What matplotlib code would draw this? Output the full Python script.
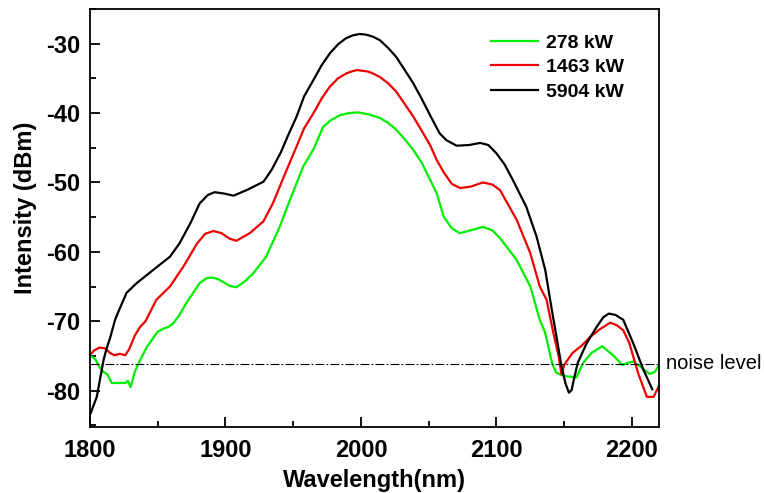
import matplotlib
matplotlib.use("Agg")
import matplotlib.pyplot as plt
from matplotlib.ticker import MultipleLocator

plt.rcParams['font.family'] = ['Liberation Sans', 'DejaVu Sans']
plt.rcParams['axes.unicode_minus'] = False

# 5904 kW (black)
wl_black = [1800, 1805, 1810, 1812, 1815, 1818.5, 1821, 1827, 1834.5, 1846.7, 1859, 1866, 1874, 1881,
            1887, 1892, 1899, 1906, 1915.6, 1928, 1934, 1941, 1946, 1952.5, 1958, 1965, 1971, 1977,
            1983, 1989, 1994, 1999, 2004, 2009, 2014, 2020, 2026, 2032, 2038.6, 2045, 2051, 2058,
            2063, 2070.6, 2080, 2088, 2094, 2100, 2106, 2112, 2122, 2129.6, 2136, 2141, 2145, 2148,
            2151, 2153.5, 2155.5, 2157, 2160, 2166.5, 2174, 2179, 2183, 2188, 2193.6, 2201, 2208.5,
            2215]
i_black = [-83.5, -80.9, -75.6, -74.1, -72.3, -69.8, -68.6, -65.9, -64.5, -62.6, -60.7, -58.8, -55.9, -53.0,
           -51.8, -51.4, -51.6, -51.9, -51.1, -49.9, -48.2, -45.6, -43.3, -40.5, -37.6, -35.2, -33.1, -31.4,
           -30.1, -29.2, -28.8, -28.6, -28.7, -29.0, -29.5, -30.6, -31.9, -33.7, -35.7, -38.0, -40.3, -42.9,
           -43.9, -44.7, -44.6, -44.3, -44.6, -45.8, -47.4, -49.6, -53.5, -57.8, -62.6, -68.5, -73.0, -76.5,
           -79.0, -80.3, -79.9, -78.5, -76.0, -73.2, -70.8, -69.4, -68.9, -69.1, -69.8, -73.2, -77.0,
           -79.8]

# 1463 kW (red)
wl_red = [1800, 1803, 1807, 1811, 1815, 1818, 1822, 1826, 1829, 1833, 1837, 1841, 1849, 1859, 1869, 1879,
          1885, 1891, 1897, 1903, 1908, 1918, 1928, 1935, 1943, 1952.5, 1958, 1965, 1971, 1977, 1983,
          1989, 1993, 1997, 2005, 2009, 2014, 2020, 2026, 2032, 2038.6, 2045, 2051, 2056, 2061, 2067,
          2073, 2081, 2090, 2097, 2102.6, 2115, 2125, 2132, 2137, 2142, 2146, 2148, 2150, 2156, 2163,
          2169, 2176, 2184, 2189, 2193.6, 2198, 2204.6, 2211, 2216, 2220]
i_red = [-74.9, -74.2, -73.8, -73.9, -74.6, -74.9, -74.7, -74.9, -74.0, -72.1, -70.8, -70.0, -66.9, -65.0,
         -62.1, -58.8, -57.4, -57.0, -57.3, -58.1, -58.4, -57.3, -55.6, -53.0, -49.2, -44.8, -42.2, -40.0,
         -37.9, -36.2, -35.0, -34.3, -34.0, -33.8, -34.0, -34.3, -34.8, -35.7, -36.9, -38.6, -40.5, -42.6,
         -44.6, -46.8, -48.5, -50.2, -50.8, -50.6, -50.0, -50.3, -51.1, -55.4, -60.2, -65.0, -66.9, -71.7,
         -75.1, -77.7, -76.3, -74.6, -73.5, -72.3, -71.2, -70.2, -70.6, -71.3, -73.1, -77.5, -80.9, -80.9,
         -79.3]

# 278 kW (green)
wl_green = [1800, 1804, 1807, 1810, 1813, 1816, 1820, 1826, 1828, 1830, 1833, 1837, 1842, 1850, 1854,
            1858, 1861.5, 1866, 1871, 1881, 1886, 1890, 1894, 1898, 1903, 1908, 1914, 1920.5, 1930,
            1940, 1947.6, 1957.4, 1965, 1972, 1978, 1984.5, 1991, 1998, 2006, 2014, 2020, 2026, 2032,
            2038.6, 2045, 2051, 2056, 2061, 2067, 2073, 2081, 2090, 2097, 2102.6, 2115, 2125, 2132,
            2136, 2141, 2144, 2150, 2155, 2159, 2164, 2170, 2178, 2186, 2193, 2197, 2201, 2204.6, 2213,
            2217, 2220]
i_green = [-74.9, -75.5, -76.6, -77.3, -77.7, -78.9, -78.9, -78.9, -78.6, -79.5, -77.3, -75.6, -73.7,
           -71.5, -71.1, -70.8, -70.3, -69.1, -67.4, -64.5, -63.8, -63.7, -63.9, -64.3, -64.9, -65.1,
           -64.3, -63.1, -60.7, -56.4, -52.5, -47.7, -45.2, -42.0, -41.0, -40.3, -40.0, -39.9, -40.2,
           -40.7, -41.4, -42.4, -43.7, -45.3, -47.2, -49.6, -51.6, -54.9, -56.6, -57.3, -56.9, -56.4,
           -56.9, -58.0, -61.2, -65.0, -69.8, -71.7, -76.0, -77.4, -77.9, -78.0, -78.1, -76.0, -74.6,
           -73.6, -74.9, -76.3, -76.0, -75.8, -76.3, -77.6, -77.3, -76.3]

noise_level = -76.1

fig = plt.figure(figsize=(7.64, 4.93), dpi=100)
ax = fig.add_axes([0.1178, 0.1345, 0.7448, 0.8472])

ax.plot(wl_green, i_green, color='#00ee00', lw=1.6, label='278 kW')
ax.plot(wl_red, i_red, color='#ee0000', lw=1.6, label='1463 kW')
ax.plot(wl_black, i_black, color='black', lw=1.6, label='5904 kW')
ax.axhline(noise_level, color='black', lw=0.8, ls=(0, (8, 2, 1.5, 2)))
ax.text(1.013, (noise_level - (-85.2)) / 60.2, 'noise level', transform=ax.transAxes,
        fontsize=14.5, va='center', ha='left')

ax.set_xlim(1800, 2220)
ax.set_ylim(-85.2, -25)
ax.xaxis.set_major_locator(MultipleLocator(100))
ax.xaxis.set_minor_locator(MultipleLocator(50))
ax.yaxis.set_major_locator(MultipleLocator(10))
ax.yaxis.set_minor_locator(MultipleLocator(5))
ax.tick_params(which='both', direction='in', top=False, right=False, width=1.3)
ax.tick_params(which='major', length=7, labelsize=17)
ax.tick_params(axis='x', which='major', pad=9)
ax.tick_params(axis='y', which='major', pad=7)
ax.tick_params(which='minor', length=4)
for lab in ax.get_xticklabels() + ax.get_yticklabels():
    lab.set_fontweight('bold')
for s in ax.spines.values():
    s.set_linewidth(1.3)

ax.set_xlabel('Wavelength(nm)', fontsize=17, fontweight='bold', labelpad=5)
ax.set_ylabel('Intensity (dBm)', fontsize=17, fontweight='bold')
ax.yaxis.set_label_coords(-0.094, 0.524)

leg = ax.legend(loc='upper left', bbox_to_anchor=(0.705, 0.94), frameon=False,
                prop={'size': 14, 'weight': 'bold'}, handlelength=2.4, handletextpad=0.4,
                labelspacing=0.36, borderpad=0, borderaxespad=0)

fig.savefig('out.png', dpi=100)
